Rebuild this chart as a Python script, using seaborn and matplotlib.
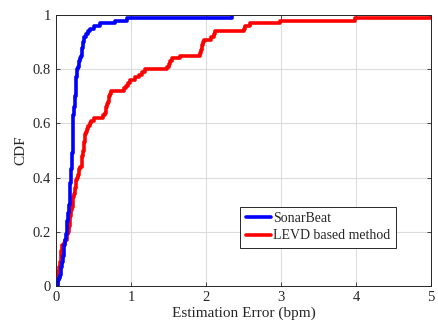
import seaborn as sns
import pandas as pd
import matplotlib.pyplot as plt
from matplotlib.ticker import FormatStrFormatter

# Estimation errors (bpm)
sonarbeat_err = [
    0.02, 0.03, 0.04, 0.05, 0.06, 0.07, 0.07, 0.08, 0.08, 0.09,
    0.09, 0.10, 0.10, 0.11, 0.11, 0.12, 0.12, 0.13, 0.13, 0.14,
    0.14, 0.15, 0.15, 0.15, 0.16, 0.16, 0.16, 0.17, 0.17, 0.17,
    0.18, 0.18, 0.18, 0.18, 0.19, 0.19, 0.19, 0.19, 0.20, 0.20,
    0.20, 0.20, 0.20, 0.21, 0.21, 0.21, 0.21, 0.21, 0.21, 0.22,
    0.22, 0.22, 0.22, 0.22, 0.22, 0.22, 0.22, 0.22, 0.22, 0.22,
    0.23, 0.23, 0.23, 0.24, 0.24, 0.24, 0.25, 0.25, 0.25, 0.25,
    0.26, 0.26, 0.26, 0.27, 0.27, 0.27, 0.27, 0.28, 0.28, 0.28,
    0.29, 0.30, 0.31, 0.32, 0.33, 0.34, 0.35, 0.35, 0.36, 0.36,
    0.37, 0.37, 0.40, 0.42, 0.45, 0.50, 0.59, 0.79, 0.94, 2.35,
]
levd_err = [
    0.01, 0.02, 0.02, 0.03, 0.03, 0.04, 0.04, 0.05, 0.05, 0.06,
    0.06, 0.07, 0.07, 0.08, 0.08, 0.10, 0.12, 0.14, 0.15, 0.16,
    0.17, 0.17, 0.18, 0.18, 0.19, 0.19, 0.20, 0.20, 0.21, 0.22,
    0.22, 0.23, 0.23, 0.24, 0.25, 0.25, 0.26, 0.27, 0.27, 0.28,
    0.29, 0.30, 0.31, 0.32, 0.34, 0.34, 0.35, 0.35, 0.36, 0.36,
    0.37, 0.37, 0.37, 0.38, 0.38, 0.39, 0.40, 0.41, 0.43, 0.45,
    0.47, 0.50, 0.63, 0.65, 0.66, 0.67, 0.68, 0.69, 0.70, 0.71,
    0.72, 0.73, 0.90, 0.93, 0.96, 0.98, 1.05, 1.10, 1.15, 1.19,
    1.48, 1.50, 1.52, 1.55, 1.65, 1.92, 1.93, 1.94, 1.95, 1.96,
    1.97, 2.07, 2.10, 2.12, 2.50, 2.52, 2.59, 2.99, 3.99, 5.00,
]
methods = ["SonarBeat", "LEVD based method"]
colors = ["#0000ff", "#ff0000"]

df = pd.DataFrame({
    "err": sonarbeat_err + levd_err,
    "method": [methods[0]] * len(sonarbeat_err) + [methods[1]] * len(levd_err),
})

sns.set_style("ticks")
plt.rcParams["font.family"] = ["Liberation Serif", "DejaVu Serif"]

fig = plt.figure(figsize=(4.38, 3.29), dpi=100)
ax = fig.add_axes([0.128, 0.131, 0.856, 0.823])

sns.ecdfplot(data=df, x="err", hue="method", hue_order=methods,
             palette=colors, linewidth=2.6, ax=ax, legend=False)

ax.set_xlim(0, 5)
ax.set_ylim(0, 1)
ax.set_xticks([0, 1, 2, 3, 4, 5])
ax.set_yticks([0, 0.2, 0.4, 0.6, 0.8, 1])
ax.yaxis.set_major_formatter(FormatStrFormatter("%g"))
ax.grid(True, color="#dcdcdc", linewidth=0.8)
ax.set_axisbelow(True)
ax.tick_params(direction="in", top=True, right=True, length=3,
               labelsize=10.5, colors="#262626", width=0.6)
for s in ax.spines.values():
    s.set_visible(True)
    s.set_color("#262626")
    s.set_linewidth(0.7)
ax.set_xlabel("Estimation Error (bpm)", fontsize=11, color="#262626", labelpad=2)
ax.set_ylabel("CDF", fontsize=11, color="#262626", labelpad=4)

handles = [plt.Line2D([], [], color=c, linewidth=2.6) for c in colors]
leg = ax.legend(handles, methods, loc="lower right", bbox_to_anchor=(0.907, 0.14),
                fontsize=10, fancybox=False, framealpha=1, edgecolor="#262626",
                handlelength=1.8, handletextpad=0.2, borderpad=0.4,
                labelspacing=0.3, borderaxespad=0)
leg.get_frame().set_linewidth(0.7)

fig.savefig("out.png", dpi=100)
